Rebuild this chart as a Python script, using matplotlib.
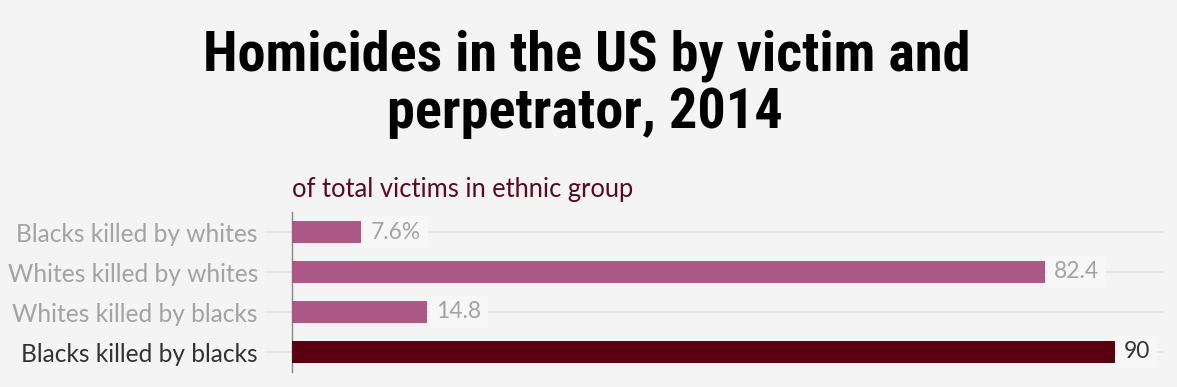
import os
import matplotlib
matplotlib.use("Agg")
import matplotlib.pyplot as plt
from matplotlib import font_manager
from matplotlib.font_manager import FontProperties

categories = ["Blacks killed by whites", "Whites killed by whites",
              "Whites killed by blacks", "Blacks killed by blacks"]
values = [7.6, 82.4, 14.8, 90]
value_labels = ["7.6%", "82.4", "14.8", "90"]
highlight = [False, False, False, True]

title_lines = ["Homicides in the US by victim and", "perpetrator, 2014"]
subtitle = "of total victims in ethnic group"

BG = "#f4f4f4"
PINK = "#ab5886"
DARK = "#5a0010"
GREY_TXT = "#a3a3a3"
DARK_TXT = "#333333"
GRID = "#e3e3e3"


def pick_title_font():
    pref = ["Roboto Condensed", "Open Sans Condensed", "Noto Sans", "Open Sans",
            "Roboto", "DejaVu Sans", "Liberation Sans Narrow", "Liberation Sans"]
    best = None
    for rank, fam in enumerate(pref):
        for f in font_manager.fontManager.ttflist:
            if f.name != fam:
                continue
            w = f.weight if isinstance(f.weight, int) else 700
            fn = os.path.basename(f.fname).lower()
            cond = (f.stretch not in ("normal", 500)) or ("condens" in fn) or ("narrow" in fn)
            if w < 700 or f.style != "normal":
                continue
            score = (0 if cond else 1, rank, -w)
            if best is None or score < best[0]:
                best = (score, f.fname)
    if best is None:
        return FontProperties(family="DejaVu Sans", weight="bold")
    return FontProperties(fname=best[1])


names = {f.name for f in font_manager.fontManager.ttflist}
body_font = "Lato" if "Lato" in names else "DejaVu Sans"
title_fp = pick_title_font()

fig = plt.figure(figsize=(11.77, 3.87), dpi=100, facecolor=BG)
W, H = 1177, 387
renderer = fig.canvas.get_renderer()


def fit_size(t, target_px):
    w = t.get_window_extent(renderer).width
    t.set_fontsize(t.get_fontsize() * target_px / w)


ax = fig.add_axes([292 / W, 1 - 372 / H, (1163 - 292) / W, 160 / H])
ax.patch.set_alpha(0)

y = list(range(len(categories)))
colors = [DARK if h else PINK for h in highlight]
ax.barh(y, values, height=0.56, color=colors, zorder=3)
ax.set_ylim(len(categories) - 0.5, -0.5)
ax.set_xlim(0, 95.3)

for yi in y:
    ax.axhline(yi, color=GRID, lw=1.2, zorder=1)

ax.set_yticks(y)
ax.set_yticklabels(categories, fontsize=18, family=body_font)
for lbl, h in zip(ax.get_yticklabels(), highlight):
    lbl.set_color(DARK_TXT if h else GREY_TXT)
probe = fig.text(0, 0, categories[1], fontsize=18, family=body_font)
fit_size(probe, 250)
lab_size = probe.get_fontsize()
probe.remove()
for lbl in ax.get_yticklabels():
    lbl.set_fontsize(lab_size)

for yi, v, lab, h in zip(y, values, value_labels, highlight):
    ax.text(v + 1.0, yi, lab, va="center", ha="left", fontsize=lab_size * 0.93,
            family=body_font, color=DARK_TXT if h else GREY_TXT, zorder=4,
            bbox=dict(boxstyle="square,pad=0.3", fc="#f7f7f7", ec="none"))

ax.tick_params(axis="y", length=19.5, width=1.2, color=GRID, pad=5)
ax.set_xticks([])
for s in ["top", "right", "bottom"]:
    ax.spines[s].set_visible(False)
ax.spines["left"].set_color("#888888")
ax.spines["left"].set_linewidth(1)

t1 = fig.text(587 / W, 1 - 70 / H, title_lines[0], ha="center", va="baseline",
              fontproperties=title_fp, color="black")
t1.set_fontsize(36)
fit_size(t1, 767)
t2 = fig.text(585 / W, 1 - 128 / H, title_lines[1], ha="center", va="baseline",
              fontproperties=title_fp, color="black")
t2.set_fontsize(t1.get_fontsize())

st = fig.text(292 / W, 1 - 197 / H, subtitle, ha="left", va="baseline", fontsize=18,
              family=body_font, color="#5a0a1e")
fit_size(st, 340)

fig.savefig("out.png", dpi=100, facecolor=BG)
